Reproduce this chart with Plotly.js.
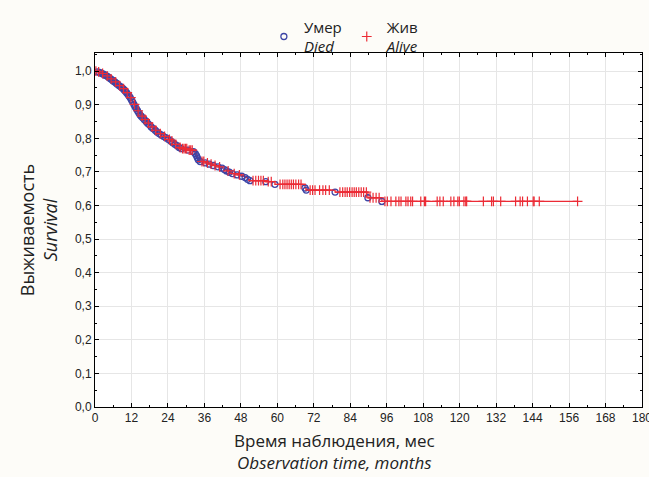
<!DOCTYPE html>
<html><head><meta charset="utf-8">
<script src="https://cdn.plot.ly/plotly-3.0.1.min.js"></script>
<style>html,body{margin:0;padding:0;background:#fdfcf8}</style>
</head><body><div id="chart" style="width:649px;height:477px"></div>
<script>
// Deaths (time in months, survival after event)
const diedTime = [0.8,1.5,2.2,2.8,3.3,3.8,4.3,4.7,5.1,5.6,6.0,6.5,7.0,7.4,7.9,8.4,8.8,9.2,9.6,10.0,10.4,10.8,11.2,11.6,12.0,12.4,12.8,13.2,13.6,14.0,14.4,14.8,15.2,15.7,16.2,16.8,17.3,17.9,18.5,19.1,19.8,20.4,21.1,21.8,22.5,23.3,24.1,24.9,25.6,26.3,27.0,27.7,28.4,30.6,32.4,33.0,33.4,33.7,34.0,34.6,36.3,37.6,38.9,40.5,41.8,42.6,43.3,44.2,45.2,46.8,48.3,49.4,50.2,51.0,56.2,59.2,69.1,69.5,79.0,89.8,94.4];
const diedSurv = [0.998,0.996,0.993,0.991,0.988,0.986,0.983,0.980,0.977,0.974,0.971,0.968,0.964,0.961,0.957,0.954,0.951,0.948,0.944,0.940,0.936,0.931,0.926,0.921,0.914,0.908,0.901,0.894,0.888,0.882,0.876,0.870,0.866,0.861,0.856,0.850,0.845,0.840,0.834,0.829,0.824,0.819,0.814,0.810,0.806,0.802,0.797,0.792,0.787,0.782,0.778,0.773,0.769,0.765,0.760,0.754,0.748,0.742,0.736,0.731,0.727,0.723,0.719,0.715,0.711,0.707,0.703,0.699,0.695,0.691,0.687,0.683,0.678,0.674,0.671,0.663,0.652,0.646,0.640,0.623,0.612];
// Censored (alive)
const aliveTime = [0.3,1.2,2.5,4.0,5.3,6.8,8.1,9.4,10.6,11.8,13.0,14.2,15.5,16.5,17.6,18.8,20.0,21.5,22.9,24.5,25.3,26.6,28.0,28.8,29.3,29.8,30.2,31.0,31.5,32.0,35.2,35.8,37.0,38.2,39.5,41.0,43.8,45.8,47.5,52.0,52.9,53.8,54.6,55.4,57.0,58.0,60.9,61.8,62.5,63.2,63.9,64.6,65.3,66.1,67.0,67.8,70.8,71.6,72.4,73.9,75.0,75.9,77.1,80.6,81.5,82.3,83.0,83.8,84.6,85.3,86.0,86.8,87.6,88.4,89.3,90.5,91.5,92.5,93.5,95.4,96.2,97.4,99.0,100.0,100.7,102.3,103.0,103.9,104.5,107.2,108.4,108.8,112.6,113.5,114.6,117.1,118.1,119.4,119.9,121.4,122.0,122.3,127.8,130.5,131.1,133.5,138.4,139.9,140.7,142.3,144.2,144.5,146.2,158.8];
const aliveSurv = [1.000,0.998,0.993,0.986,0.977,0.968,0.957,0.948,0.936,0.921,0.901,0.882,0.866,0.856,0.845,0.834,0.824,0.814,0.806,0.797,0.792,0.782,0.773,0.769,0.769,0.769,0.769,0.765,0.765,0.765,0.731,0.731,0.727,0.723,0.719,0.715,0.703,0.695,0.691,0.674,0.674,0.674,0.674,0.674,0.671,0.671,0.663,0.663,0.663,0.663,0.663,0.663,0.663,0.663,0.663,0.663,0.646,0.646,0.646,0.646,0.646,0.646,0.646,0.640,0.640,0.640,0.640,0.640,0.640,0.640,0.640,0.640,0.640,0.640,0.640,0.623,0.623,0.623,0.623,0.612,0.612,0.612,0.612,0.612,0.612,0.612,0.612,0.612,0.612,0.612,0.612,0.612,0.612,0.612,0.612,0.612,0.612,0.612,0.612,0.612,0.612,0.612,0.612,0.612,0.612,0.612,0.612,0.612,0.612,0.612,0.612,0.612,0.612,0.612];
const startTime = [0];
const startSurv = [1.0];

const xTicks = [0,12,24,36,48,60,72,84,96,108,120,132,144,156,168,180];
const yTicks = [0,0.1,0.2,0.3,0.4,0.5,0.6,0.7,0.8,0.9,1.0];
const yTickText = ['0,0','0,1','0,2','0,3','0,4','0,5','0,6','0,7','0,8','0,9','1,0'];

const legendDied = 'Умер<br><i>Died</i>';
const legendAlive = 'Жив<br><i>Alive</i>';
const xTitle = 'Время наблюдения, мес<br><i>Observation time, months</i>';
const yTitle = 'Выживаемость<br><i>Survival</i>';

// Step line built from all events sorted by time
const pts = startTime.map((t,i)=>[t,startSurv[i]])
  .concat(diedTime.map((t,i)=>[t,diedSurv[i]]))
  .concat(aliveTime.map((t,i)=>[t,aliveSurv[i]]))
  .sort((a,b)=>a[0]-b[0]);

const red = '#ec2b35';
const blue = '#3d45a6';

const traces = [
  {x: pts.map(p=>p[0]), y: pts.map(p=>p[1]), mode:'lines', line:{shape:'hv', color:red, width:1.3}, showlegend:false, hoverinfo:'skip'},
  {x: diedTime, y: diedSurv, mode:'markers', name: legendDied,
   marker:{symbol:'circle-open', size:6, color:blue, line:{width:1.3, color:blue}}},
  {x: aliveTime, y: aliveSurv, mode:'markers', name: legendAlive,
   marker:{symbol:'cross-thin-open', size:7, color:red, line:{width:1.2, color:red}}}
];

const axisCommon = {
  showline:true, linecolor:'#000', linewidth:1, mirror:'ticks',
  ticks:'inside', ticklen:4, tickcolor:'#000',
  showgrid:true, gridcolor:'#e6e6e6', gridwidth:1, zeroline:false,
  ticklabeloverflow:'allow',
  tickfont:{family:'Liberation Sans, Arial, sans-serif', size:12, color:'#222'}
};

const layout = {
  width:649, height:477,
  paper_bgcolor:'#fdfcf8', plot_bgcolor:'#ffffff',
  margin:{l:95, r:7, t:53, b:70},
  showlegend:true,
  legend:{orientation:'h', x:0.455, xanchor:'center', y:1.12, yanchor:'top',
    font:{family:'Open Sans, sans-serif', size:15, color:'#222'},
    itemwidth:30, bgcolor:'rgba(0,0,0,0)', valign:'middle'},
  xaxis: Object.assign({}, axisCommon, {range:[0,180], tickvals:xTicks, ticktext:xTicks.map(String),
    minor:{dtick:6, ticklen:2, ticks:'inside', tickcolor:'#000', showgrid:false}}),
  yaxis: Object.assign({}, axisCommon, {range:[0,1.054], tickvals:yTicks, ticktext:yTickText,
    minor:{dtick:0.05, ticklen:2, ticks:'inside', tickcolor:'#000', showgrid:false},
    title:{text:yTitle, standoff:12, font:{family:'Open Sans, sans-serif', size:18, color:'#222'}}}),
  annotations:[
    {text:xTitle, xref:'paper', yref:'paper', x:0.437, y:-0.057, xanchor:'center', yanchor:'top',
     showarrow:false, font:{family:'Open Sans, sans-serif', size:17, color:'#222'}}
  ]
};

Plotly.newPlot('chart', traces, layout, {displayModeBar:false, staticPlot:true});
</script></body></html>
